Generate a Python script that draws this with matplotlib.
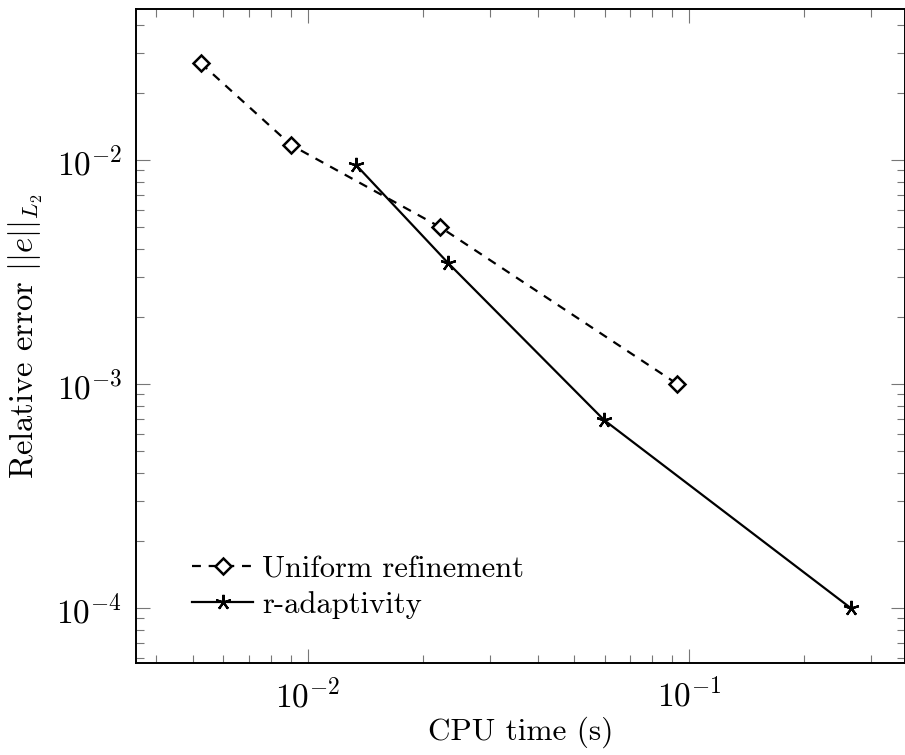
import matplotlib
matplotlib.use("Agg")
import matplotlib.pyplot as plt
from matplotlib.ticker import LogLocator, NullFormatter

# Data
uniform_time = [0.00523, 0.00903, 0.0222, 0.0930]
uniform_err = [0.0271, 0.01166, 0.00502, 0.0010]
radapt_time = [0.01337, 0.0233, 0.0598, 0.265]
radapt_err = [0.0095, 0.00347, 0.00069, 0.0001]

plt.rcParams['font.family'] = 'serif'
plt.rcParams['font.serif'] = ['cmr10']
plt.rcParams['mathtext.fontset'] = 'cm'
plt.rcParams['axes.formatter.use_mathtext'] = True
plt.rcParams['axes.unicode_minus'] = True

fig = plt.figure(figsize=(9.05, 7.55), dpi=100)
ax = fig.add_axes([136 / 905, 92 / 755, 769 / 905, 654 / 755])

ax.plot(uniform_time, uniform_err, color='black', lw=1.6, dashes=(4, 3.5),
        marker='D', markersize=8, markerfacecolor='white',
        markeredgecolor='black', markeredgewidth=1.8,
        label='Uniform refinement')
ax.plot(radapt_time, radapt_err, color='black', lw=1.6,
        marker=(5, 2, 0), markersize=11, markeredgewidth=1.6,
        label='r-adaptivity')

ax.set_xscale('log')
ax.set_yscale('log')
ax.set_xlim(0.00354, 0.368)
ax.set_ylim(5.68e-5, 0.0472)

ax.xaxis.set_major_locator(LogLocator(base=10, numticks=10))
ax.yaxis.set_major_locator(LogLocator(base=10, numticks=10))
ax.xaxis.set_minor_locator(LogLocator(base=10, subs=range(2, 10), numticks=20))
ax.yaxis.set_minor_locator(LogLocator(base=10, subs=range(2, 10), numticks=20))
ax.xaxis.set_minor_formatter(NullFormatter())
ax.yaxis.set_minor_formatter(NullFormatter())

ax.tick_params(which='both', direction='in', top=True, right=True,
               color='#777777', width=0.8, labelsize=24, pad=10)
ax.tick_params(which='major', length=10)
ax.tick_params(which='minor', length=6)
for s in ax.spines.values():
    s.set_linewidth(1.4)

ax.set_xlabel('CPU time (s)', fontsize=22.5, labelpad=3)
ax.set_ylabel(r'Relative error $||e||_{L_2}$', fontsize=23.5, labelpad=8)

ax.legend(loc='lower left', bbox_to_anchor=(0.045, 0.035), frameon=False,
          fontsize=22, handlelength=2.0, handletextpad=0.3, labelspacing=0.25,
          borderpad=0.2)

fig.savefig('out.png', dpi=100)
